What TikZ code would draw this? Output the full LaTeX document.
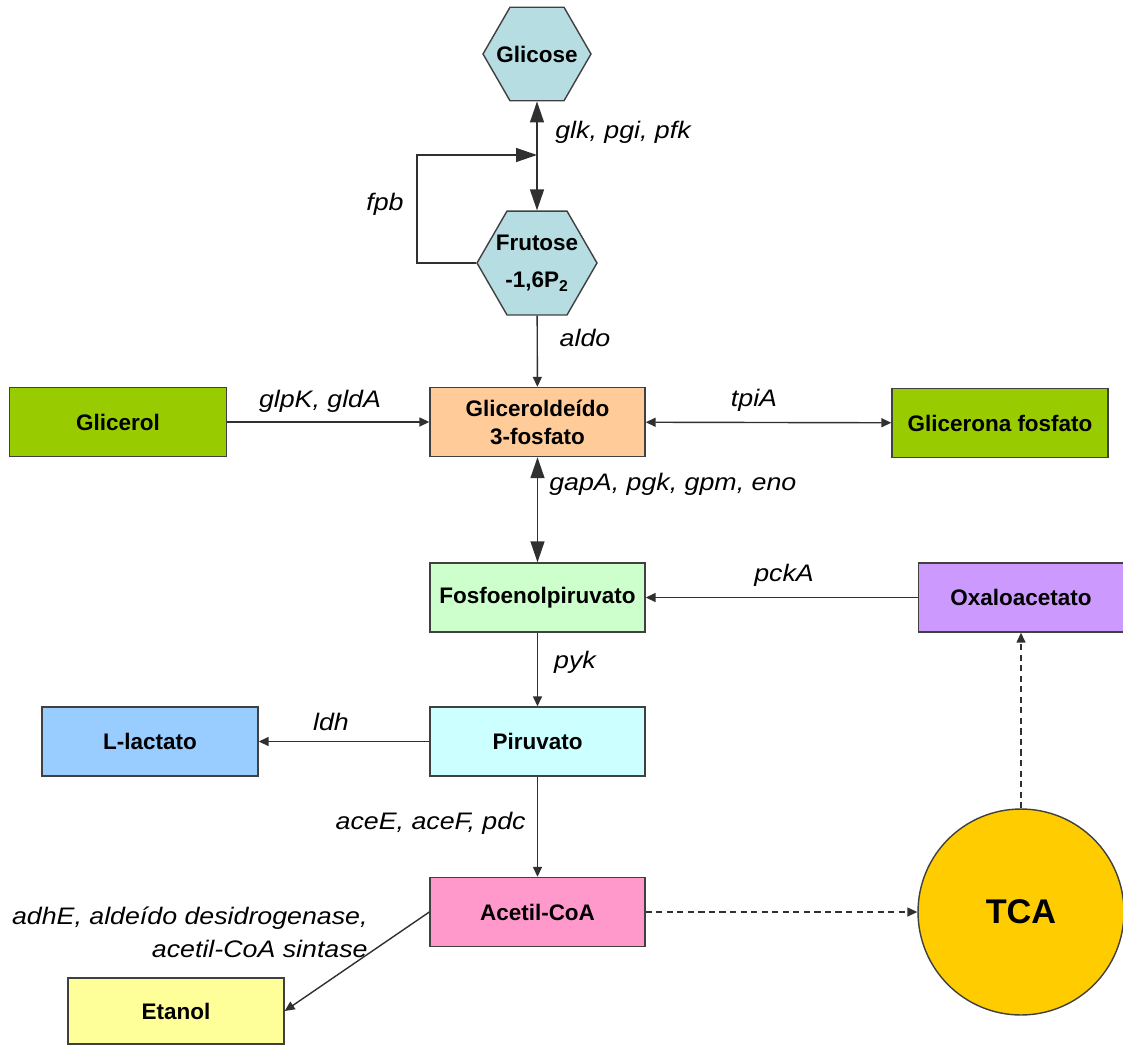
\documentclass[tikz,border=0pt]{standalone}
\usepackage{fontspec}
\setmainfont{Liberation Sans}
\newfontfamily\genefont[FakeStretch=1.12]{Liberation Sans}
\usetikzlibrary{shapes.geometric,arrows.meta}

\definecolor{hexcol}{RGB}{182,221,226}
\definecolor{g3pcol}{HTML}{FFCC99}
\definecolor{glycol}{HTML}{99CC00}
\definecolor{pepcol}{HTML}{CCFFCC}
\definecolor{oaacol}{HTML}{CC99FF}
\definecolor{pyrcol}{HTML}{CCFFFF}
\definecolor{laccol}{HTML}{99CCFF}
\definecolor{accol}{HTML}{FF99CC}
\definecolor{etocol}{HTML}{FFFF99}
\definecolor{tcacol}{HTML}{FFCC00}
\definecolor{edgecol}{HTML}{404040}
\definecolor{linecol}{HTML}{303030}

\tikzset{
  metab/.style={draw=edgecol, line width=0.8pt, minimum width=4.3cm, minimum height=1.38cm,
    inner sep=1pt, align=center, font=\fontsize{12.8}{16}\selectfont\bfseries},
  hexa/.style={regular polygon, regular polygon sides=6, draw=edgecol, line width=0.8pt,
    fill=hexcol, inner sep=0pt},
  hexatext/.style={inner sep=0pt, align=center, font=\fontsize{12.8}{21}\selectfont\bfseries},
  gene/.style={inner sep=0pt, font=\genefont\itshape\fontsize{13.6}{18.7}\selectfont},
  small tip/.tip={Triangle[length=0.2cm,width=0.18cm]},
  big tip/.tip={Triangle[length=0.42cm,width=0.28cm]},
  flow/.style={draw=linecol, line width=0.8pt, -small tip},
  flowboth/.style={draw=linecol, line width=0.8pt, small tip-small tip},
  bigflow/.style={draw=linecol, line width=0.8pt, -big tip},
  bigboth/.style={draw=linecol, line width=0.8pt, big tip-big tip},
  tcaflow/.style={flow, dash pattern=on 3.5pt off 2.5pt},
}

\begin{document}
\begin{tikzpicture}[x=0.02cm,y=-0.02cm]
\useasboundingbox (0,0) rectangle (1123,1045);

% metabolitos
\node[hexa, minimum size=2.16cm, label={[hexatext]center:Glicose}] (glicose) at (537,54) {};
\node[hexa, minimum size=2.4cm, label={[hexatext]center:Frutose\\-1,6P\textsubscript{2}}] (frutose) at (537,263) {};
\node[metab, fill=g3pcol] (gli3p) at (537.5,422) {Gliceroldeído\\3-fosfato};
\node[metab, fill=glycol, minimum width=4.34cm] (glicerol) at (118,422) {Glicerol};
\node[metab, fill=glycol, minimum width=4.32cm] (glicerona) at (1000,423) {Glicerona fosfato};
\node[metab, fill=pepcol] (pep) at (537.5,597.5) {Fosfoenolpiruvato};
\node[metab, fill=oaacol, minimum width=4.1cm] (oxalo) at (1021,597.5) {Oxaloacetato};
\node[metab, fill=pyrcol] (piruvato) at (537.5,741.5) {Piruvato};
\node[metab, fill=laccol, minimum width=4.32cm] (lactato) at (150,741.5) {L-lactato};
\node[metab, fill=accol] (acetil) at (537.5,912) {Acetil-CoA};
\node[metab, fill=etocol, minimum width=4.32cm, minimum height=1.32cm] (etanol) at (176,1011) {Etanol};
\node[circle, draw=edgecol, line width=0.8pt, fill=tcacol, minimum size=4.12cm, inner sep=0pt,
  font=\fontsize{19.5}{22}\selectfont\bfseries] (tca) at (1021,912) {TCA};

% reacoes
\coordinate (fpbend) at (537,155);
\draw[bigboth] (glicose) -- (frutose);
\draw[bigflow] (frutose.west) -- ++(-59,0) |- (fpbend);
\draw[flow] (frutose) -- (gli3p);
\draw[flow] (glicerol) -- (gli3p);
\draw[flowboth] (gli3p) -- (glicerona);
\draw[bigboth] (gli3p) -- (pep);
\draw[flow] (oxalo) -- (pep);
\draw[flow] (pep) -- (piruvato);
\draw[flow] (piruvato) -- (lactato);
\draw[flow] (piruvato) -- (acetil);
\draw[flow] (acetil.west) -- (etanol.east);
\draw[tcaflow] (acetil) -- (tca);
\draw[tcaflow] (tca) -- (oxalo);

% enzimas
\node[gene, anchor=west] (lglk) at (555,132) {glk, pgi, pfk};
\node[gene] (lfpb) at (385,204) {fpb};
\node[gene] (laldo) at (585,338) {aldo};
\node[gene] (lglp) at (320,401) {glpK, gldA};
\node[gene] (ltpi) at (754,400) {tpiA};
\node[gene, anchor=west] (lgap) at (549,484) {gapA, pgk, gpm, eno};
\node[gene] (lpck) at (784,575) {pckA};
\node[gene] (lpyk) at (575,662) {pyk};
\node[gene] (lldh) at (331,722) {ldh};
\node[gene, anchor=east] (lace) at (526,823) {aceE, aceF, pdc};
\node[gene, anchor=east, align=right] (ladh) at (368,932) {adhE, aldeído desidrogenase,\\acetil-CoA sintase};
\end{tikzpicture}
\end{document}
